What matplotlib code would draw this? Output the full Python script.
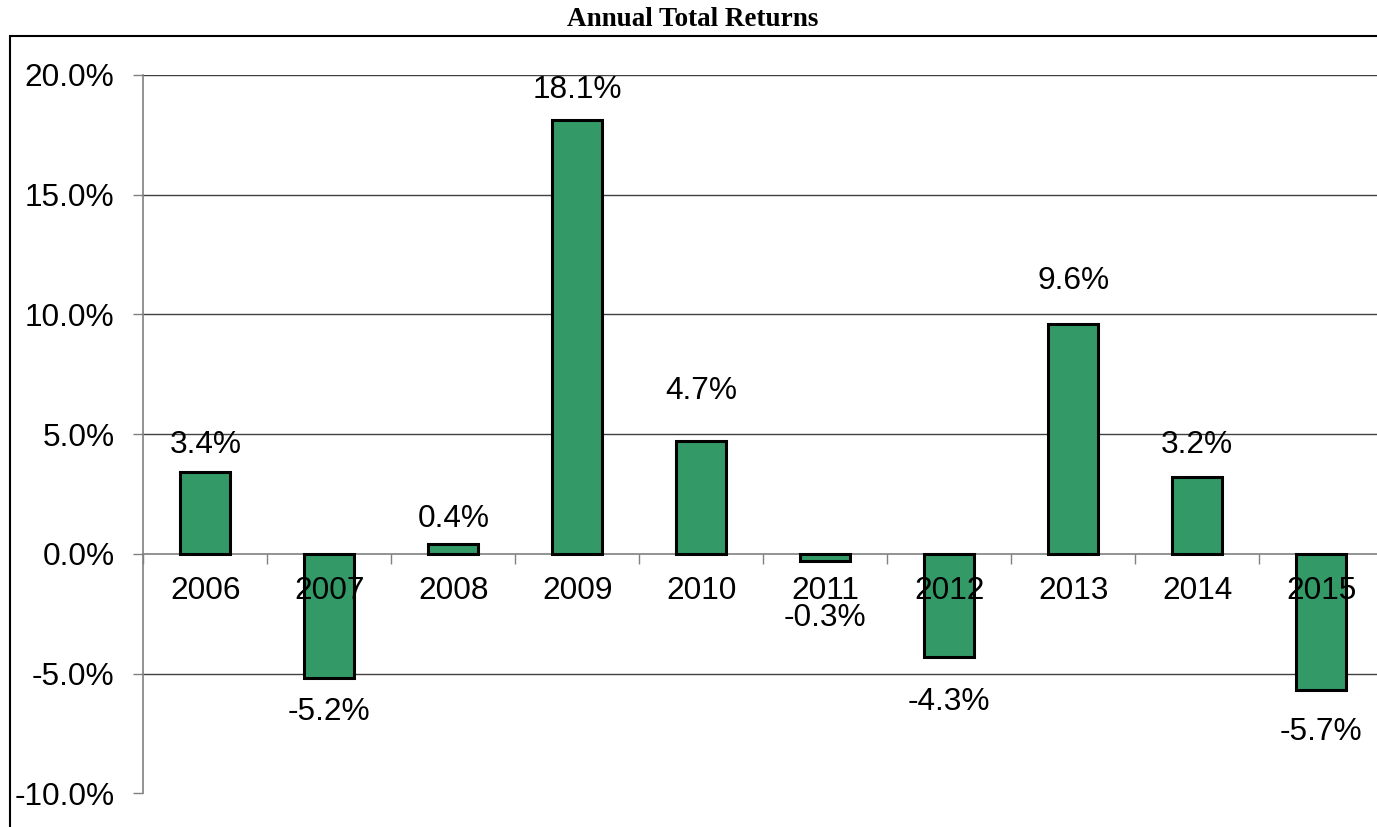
import matplotlib
matplotlib.use('Agg')
import matplotlib.pyplot as plt
import matplotlib.patches as patches
from matplotlib.ticker import FixedLocator

years = ['2006', '2007', '2008', '2009', '2010', '2011', '2012', '2013', '2014', '2015']
returns = [3.4, -5.2, 0.4, 18.1, 4.7, -0.3, -4.3, 9.6, 3.2, -5.7]
# label offsets in points (from bar end)
label_off = [20, -24.5, 18.5, 22, 36, -41, -32.7, 31, 23, -30]

W, H = 1377, 827
fig = plt.figure(figsize=(W / 100, H / 100), dpi=100)
fig.patch.set_facecolor('white')

# outer frame
fig.add_artist(patches.Rectangle((10 / W, -0.05), 1.2, 1 - 35.5 / H + 0.05,
                                 transform=fig.transFigure, fill=False,
                                 edgecolor='black', linewidth=1.5))

left = 143.3 / W
right = (143.3 + 1240) / W
top = 1 - 75 / H
bottom = 1 - 793.3 / H
ax = fig.add_axes([left, bottom, right - left, top - bottom])
ax.set_facecolor('none')

x = list(range(len(years)))
ax.bar(x, returns, width=0.405, color='#339966', edgecolor='black',
       linewidth=2.2, zorder=3)

ax.set_xlim(-0.5, len(years) - 0.5)
ax.set_ylim(-10, 20)
ax.set_yticks([-10, -5, 0, 5, 10, 15, 20])
ax.set_yticklabels(['-10.0%', '-5.0%', '0.0%', '5.0%', '10.0%', '15.0%', '20.0%'],
                   fontsize=22.8, fontfamily='Liberation Sans')
ax.tick_params(axis='y', length=7.2, width=1, color='#808080', pad=13.5)
for yv in [-5, 5, 10, 15, 20]:
    ax.axhline(yv, color='#404040', linewidth=1, zorder=1)

for s in ['top', 'right']:
    ax.spines[s].set_visible(False)
ax.spines['left'].set_color('#808080')
ax.spines['left'].set_linewidth(1.2)
ax.spines['bottom'].set_position(('data', 0))
ax.spines['bottom'].set_color('#808080')
ax.spines['bottom'].set_linewidth(1.2)
ax.spines['bottom'].set_zorder(2)

ax.xaxis.set_major_locator(FixedLocator([i - 0.5 for i in range(len(years) + 1)]))
ax.set_xticklabels([])
ax.tick_params(axis='x', length=7.2, width=1, color='#808080', direction='out')

for i, yr in enumerate(years):
    ax.annotate(yr, xy=(i, 0), xytext=(0, -26.6), textcoords='offset points',
                ha='center', va='center', fontsize=22.8,
                fontfamily='Liberation Sans', zorder=4)

for i, v in enumerate(returns):
    ax.annotate(f'{v:.1f}%', xy=(i, v), xytext=(0, label_off[i]),
                textcoords='offset points', ha='center', va='center',
                fontsize=22.8, fontfamily='Liberation Sans', zorder=4)

fig.text(692.5 / W, 1 - 19 / H, 'Annual Total Returns', ha='center', va='center',
         fontsize=19.5, fontweight='bold', fontfamily='Liberation Serif')

fig.savefig('out.png', dpi=100, facecolor='white')
